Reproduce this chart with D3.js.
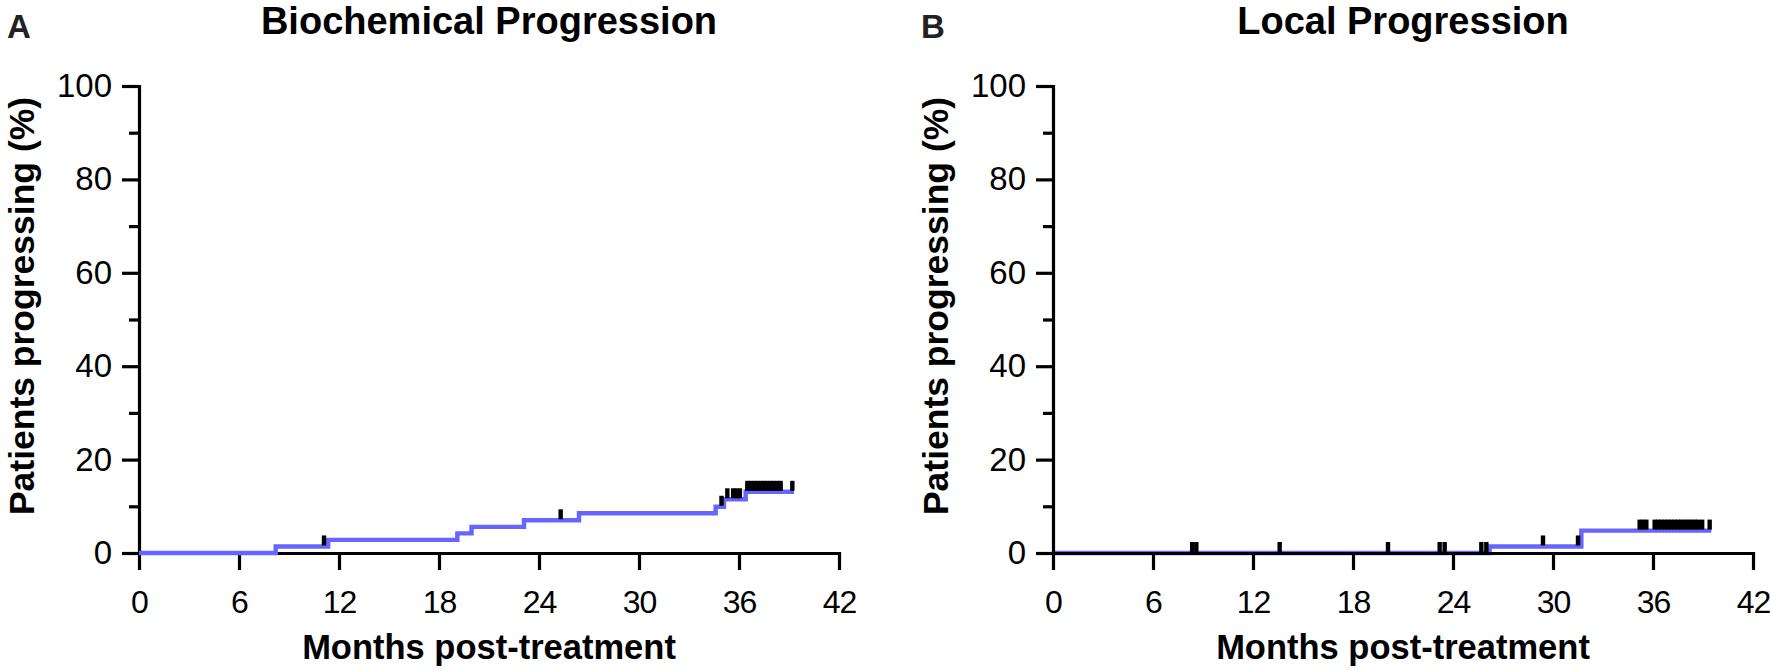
<!DOCTYPE html>
<html><head><meta charset="utf-8">
<script src="https://cdn.jsdelivr.net/npm/d3@7/dist/d3.min.js"></script>
<style>
html,body{margin:0;padding:0;background:#fff;}
svg{display:block;font-family:"Liberation Sans",Arial,Helvetica,sans-serif;}
</style></head>
<body>
<svg id="chart" width="1770" height="670"></svg>
<script>
// ---- Data ----
const xTicks = [0, 6, 12, 18, 24, 30, 36, 42];
const yMajorTicks = [0, 20, 40, 60, 80, 100];
const yMinorTicks = [10, 30, 50, 70, 90];

const panelTitles = ["Biochemical Progression", "Local Progression"];
const panelLetters = ["A", "B"];
const xAxisTitle = "Months post-treatment";
const yAxisTitle = "Patients progressing (%)";

// Panel A: step curve (time in months, % progressing)
const bioTimes  = [0, 8.2, 11.35, 19.1, 19.95, 23.1, 26.4, 34.6, 35.1, 36.4, 39.3];
const bioValues = [0, 1.4, 2.8,   4.2,  5.6,   7.0,  8.5,  9.9,  11.5, 13.1, 13.1];
// censored observations [time, level]
const bioCensorTimes  = [11.1, 25.3, 34.95, 35.3, 35.65, 35.85, 36.05, 36.5, 36.7, 36.9, 37.1, 37.3, 37.5, 37.7, 37.9, 38.1, 38.3, 38.5, 39.2];
const bioCensorLevels = [1.4,  7.0,  9.9,   11.5, 11.5,  11.5,  11.5,  13.1, 13.1, 13.1, 13.1, 13.1, 13.1, 13.1, 13.1, 13.1, 13.1, 13.1, 13.1];

// Panel B
const localTimes  = [0, 26.2, 31.7, 39.5];
const localValues = [0, 1.4,  4.8,  4.8];
const localCensorTimes  = [8.35, 8.6, 13.6, 20.1, 23.2, 23.5, 25.7, 26.0, 29.4, 31.5, 35.2, 35.4, 35.6, 36.1, 36.3, 36.5, 36.7, 36.9, 37.1, 37.3, 37.5, 37.7, 37.9, 38.1, 38.3, 38.5, 38.7, 38.95, 39.4];
const localCensorLevels = [0,    0,   0,    0,    0,    0,    0,    0,    1.4,  1.4,  4.8,  4.8,  4.8,  4.8,  4.8,  4.8,  4.8,  4.8,  4.8,  4.8,  4.8,  4.8,  4.8,  4.8,  4.8,  4.8,  4.8,  4.8,   4.8];

const panels = [
  {title: panelTitles[0], letter: panelLetters[0], times: bioTimes, values: bioValues,
   cT: bioCensorTimes, cL: bioCensorLevels, left: 139, curveOnTop: true},
  {title: panelTitles[1], letter: panelLetters[1], times: localTimes, values: localValues,
   cT: localCensorTimes, cL: localCensorLevels, left: 1053, curveOnTop: false}
];

const svg = d3.select("#chart");
const plotW = 700, plotTop = 86, plotBottom = 553;
const blue = "#6666ff";

panels.forEach(p => {
  const g = svg.append("g");
  const x = d3.scaleLinear().domain([0, 42]).range([p.left, p.left + plotW]);
  const y = d3.scaleLinear().domain([0, 100]).range([plotBottom, plotTop]);

  const curveG = g.append("g");
  const axesG = g.append("g");
  if (p.curveOnTop) curveG.raise();

  const xa = axesG.append("g").attr("transform", `translate(0,${plotBottom})`)
    .call(d3.axisBottom(x).tickValues(xTicks).tickSize(17).tickSizeOuter(0).tickPadding(20));
  const ya = axesG.append("g").attr("transform", `translate(${p.left},0)`)
    .call(d3.axisLeft(y).tickValues(yMajorTicks).tickSize(17).tickSizeOuter(0).tickPadding(10));
  const ym = axesG.append("g").attr("transform", `translate(${p.left},0)`)
    .call(d3.axisLeft(y).tickValues(yMinorTicks).tickSize(10).tickSizeOuter(0).tickFormat(""));
  ym.select(".domain").remove();

  [xa, ya, ym].forEach(a => {
    a.selectAll("path.domain").attr("stroke", "#000").attr("stroke-width", 3.2).attr("stroke-linecap", "square");
    a.selectAll(".tick line").attr("stroke", "#000").attr("stroke-width", 3.2);
    a.selectAll("text").attr("font-size", 33).attr("fill", "#000")
      .attr("font-family", "'Liberation Sans',Arial,Helvetica,sans-serif");
  });
  xa.selectAll("text").attr("font-size", 32).attr("letter-spacing", "-1px");

  const pts = p.times.map((t, i) => [t, p.values[i]]);
  curveG.append("path")
    .attr("d", d3.line().x(d => x(d[0])).y(d => y(d[1])).curve(d3.curveStepAfter)(pts))
    .attr("fill", "none").attr("stroke", blue).attr("stroke-width", 4.4);

  const cens = p.cT.map((t, i) => [t, p.cL[i]]);
  g.append("g").selectAll("rect").data(cens).join("rect")
    .attr("x", d => x(d[0]) - 2.2)
    .attr("y", d => y(d[1]) - 11)
    .attr("width", 4.4).attr("height", 10)
    .attr("fill", "#000");

  g.append("text").attr("x", (x(0) + x(42)) / 2).attr("y", 34)
    .attr("text-anchor", "middle").attr("font-size", 38).attr("font-weight", "bold").text(p.title);
  g.append("text").attr("x", p.left - 132).attr("y", 38)
    .attr("font-size", 33).attr("font-weight", "bold").attr("fill", "#222").text(p.letter);
  g.append("text").attr("x", (x(0) + x(42)) / 2).attr("y", 659)
    .attr("text-anchor", "middle").attr("font-size", 34.5).attr("font-weight", "bold").text(xAxisTitle);
  g.append("text").attr("transform", `translate(${p.left - 105},306) rotate(-90)`)
    .attr("text-anchor", "middle").attr("font-size", 35.5).attr("font-weight", "bold").text(yAxisTitle);
});
</script>
</body></html>
